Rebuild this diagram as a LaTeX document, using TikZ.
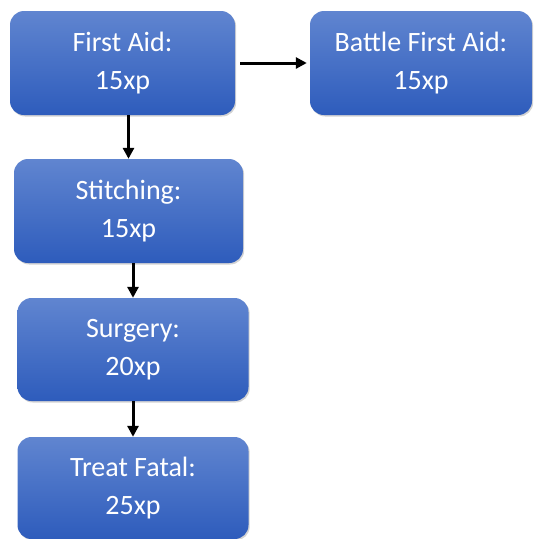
\documentclass[tikz,border=0pt]{standalone}
\usepackage{fontspec}
\setmainfont{Carlito}
\usetikzlibrary{arrows.meta,shadows,shadings}
\definecolor{boxtop}{RGB}{96,133,208}
\definecolor{boxbot}{RGB}{46,92,188}
\tikzset{
  skillbox/.style={rounded corners=14pt, top color=boxtop, bottom color=boxbot, draw=none,
    text=white, align=center, inner sep=0pt,
    font=\fontsize{28}{38}\selectfont,
    drop shadow={shadow xshift=1.2pt, shadow yshift=-1.5pt, opacity=0.35, fill=gray}},
  arr/.style={line width=3pt, -{Triangle[length=11pt,width=11pt]}}
}
\begin{document}
\begin{tikzpicture}[x=1pt,y=1pt]
\useasboundingbox (0,0) rectangle (542,-539);
\node[skillbox, minimum width=225pt, minimum height=104pt] (FA) at (122.5,-63) {First Aid:\\15xp};
\node[skillbox, minimum width=222pt, minimum height=104pt] (BFA) at (421,-63) {Battle First Aid:\\15xp};
\node[skillbox, minimum width=229pt, minimum height=104pt] (St) at (128.5,-211) {Stitching:\\15xp};
\node[skillbox, minimum width=231pt, minimum height=103pt] (Su) at (133,-349.5) {Surgery:\\20xp};
\node[skillbox, minimum width=231pt, minimum height=102pt] (TF) at (133,-488) {Treat Fatal:\\25xp};
\draw[arr] ([xshift=5pt]FA.east) -- ([xshift=-3pt]BFA.west);
\draw[arr] (FA.south -| St.north) -- (St.north);
\draw[arr] (St.south -| Su.north) -- (Su.north);
\draw[arr] (Su.south) -- (TF.north);
\end{tikzpicture}
\end{document}
